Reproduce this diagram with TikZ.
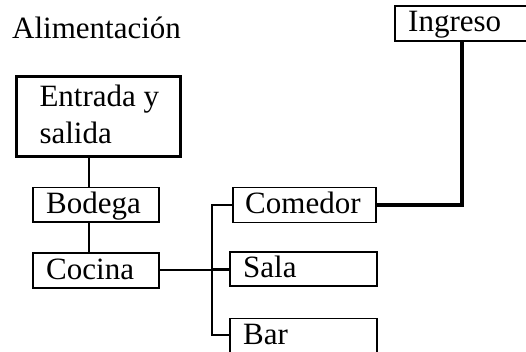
\documentclass[tikz,border=0pt]{standalone}
\usepackage{fontspec}
\setmainfont{Liberation Serif}
\begin{document}
\begin{tikzpicture}[x=1pt,y=-1pt,
  box/.style={draw=black,line width=1.8pt,rectangle,inner sep=0pt,anchor=north west},
  bigbox/.style={box,line width=3pt},
  txt/.style={anchor=base west,inner sep=0pt,font=\fontsize{31}{37}\selectfont},
  conn/.style={draw=black,line width=2pt},
  thick conn/.style={draw=black,line width=4pt}]
\useasboundingbox (0,0) rectangle (526,352);
\clip (0,0) rectangle (526,352);
% boxes
\node[bigbox,minimum width=164pt,minimum height=80pt] (entrada) at (15,75) {};
\node[box,minimum width=125.4pt,minimum height=34.3pt] (bodega) at (32.3,186.7) {};
\node[box,minimum width=125.4pt,minimum height=35pt] (cocina) at (32.3,252) {};
\node[box,minimum width=143.3pt,minimum height=35pt] (comedor) at (231.7,186.7) {};
\node[box,minimum width=146.4pt,minimum height=34pt] (sala) at (229.3,251) {};
\node[box,minimum width=146.4pt,minimum height=34pt] (bar) at (229.3,317.5) {};
\node[box,minimum width=150pt,minimum height=35pt] (ingreso) at (394,5) {};
% texts
\node[txt] (tAlim) at (12,39) {Alimentación};
\node[txt] (tEnt1) at (39.3,106.7) {Entrada y};
\node[txt] (tEnt2) at (39.3,144) {salida};
\node[txt] (tBod) at (46,213.3) {Bodega};
\node[txt] (tCoc) at (46,279.3) {Cocina};
\node[txt] (tCom) at (245,213.3) {Comedor};
\node[txt] (tSal) at (243,277.7) {Sala};
\node[txt] (tBar) at (243,344.3) {Bar};
\node[txt] (tIng) at (408,31.7) {Ingreso};
% helper coordinates
\coordinate (vx) at (89,0);
\coordinate (tx) at (212.3,0);
\coordinate (ix) at (461.7,0);
% connectors
\draw[conn] (entrada.south -| vx) -- (bodega.north -| vx);
\draw[conn] (bodega.south -| vx) -- (cocina.north -| vx);
\draw[conn] (cocina.east) -- (cocina.east -| sala.west);
\draw[conn] (comedor.west) -- (comedor.west -| tx) -- (bar.west -| tx) -- (bar.west);
\draw[conn] (sala.west -| tx) -- (sala.west);
\draw[thick conn] (comedor.east) -- (comedor.east -| ix) -- (ingreso.south -| ix);
\end{tikzpicture}
\end{document}
